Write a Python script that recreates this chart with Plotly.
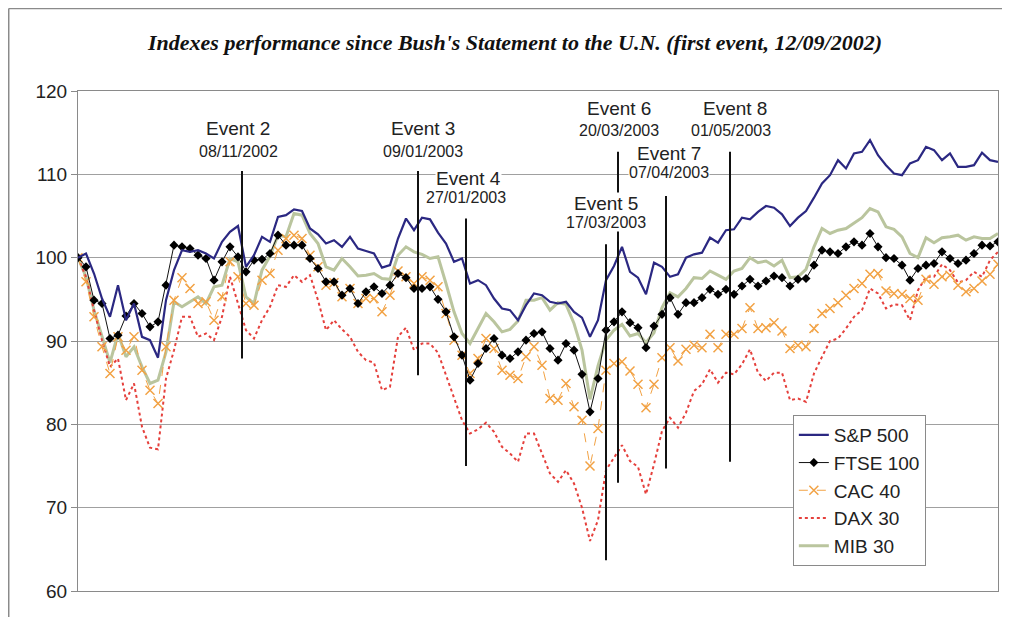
import pandas as pd
import plotly.graph_objects as go

# ---------------- data ----------------
start_date = "2002-09-12"
n_points = 116
market_holidays = ["2003-04-18", "2003-04-21"]

sp500 = [100, 100.5, 98.1, 95.1, 92.9, 96.7, 92.5, 94.5, 90.5, 90.1, 88.0, 94.9, 98.5, 100.9, 100.7, 100.9, 100.5, 99.9, 101.9, 103.1, 103.8, 98.9, 100.3, 102.5,
         101.9, 104.9, 105.1, 105.8, 105.6, 103.5, 102.8, 101.7, 102.1, 101.3, 102.5, 101.1, 100.8, 100.5, 98.8, 99.1, 102.3, 104.7, 103.3, 104.8, 104.6, 103.0,
         101.7, 99.5, 99.9, 96.9, 97.3, 96.7, 95.1, 93.9, 93.7, 92.5, 94.3, 95.7, 95.5, 94.7, 94.5, 94.7, 93.5, 92.8, 90.5, 92.5, 97.3, 99.0, 101.3,
         98.3, 97.6, 95.6, 99.4, 98.9, 97.7, 98.0, 100.0, 100.4, 100.6, 102.4, 101.8, 103.3, 103.4, 104.8, 104.6, 105.5, 106.2, 106.0, 105.2, 103.8, 104.8,
         105.6, 107.2, 108.9, 109.9, 111.7, 110.7, 112.5, 112.7, 114.1, 112.3, 111.1, 110.1, 109.9, 111.3, 111.7, 113.3, 112.9, 111.7, 112.5, 110.9, 110.9, 111.1, 112.6, 111.7, 111.5]

ftse100 = [100, 98.9, 94.9, 94.5, 90.3, 90.7, 93.0, 94.5, 93.3, 91.7, 92.3, 96.7, 101.5, 101.3, 101.1, 100.3, 99.9, 97.3, 99.5, 101.3, 100.1, 98.3, 99.7, 99.8,
           100.5, 102.7, 101.5, 101.5, 101.5, 99.9, 98.7, 97.1, 97.1, 95.5, 96.3, 94.5, 95.9, 96.5, 95.7, 96.7, 98.1, 97.6, 96.3, 96.3, 96.5, 95.0,
           93.5, 90.5, 88.3, 85.3, 87.3, 89.1, 90.3, 88.3, 87.9, 88.7, 90.1, 90.9, 91.1, 89.1, 87.7, 89.7, 88.9, 86.0, 81.5, 85.5, 91.3, 92.3, 93.5,
           92.2, 91.6, 89.2, 91.8, 93.2, 95.2, 93.2, 94.6, 94.6, 95.2, 96.2, 95.6, 96.2, 95.6, 96.6, 97.4, 96.6, 97.2, 97.8, 97.6, 96.6, 97.4,
           97.5, 99.1, 100.9, 100.7, 100.5, 101.3, 101.9, 101.5, 102.9, 101.3, 100.0, 99.9, 99.1, 97.3, 98.7, 99.1, 99.3, 100.7, 99.9, 99.3, 99.7, 100.5, 101.5, 101.4, 101.9]

cac40 = [100, 97.1, 92.9, 89.3, 86.1, 90.5, 88.9, 90.5, 86.5, 84.1, 82.5, 89.3, 94.9, 97.6, 96.3, 94.5, 94.7, 92.5, 95.3, 99.5, 97.7, 94.5, 94.3, 97.3,
         98.1, 100.9, 102.3, 102.7, 102.3, 100.3, 98.9, 96.7, 97.0, 95.3, 96.3, 94.5, 95.1, 95.1, 93.5, 95.5, 98.4, 97.7, 96.9, 97.7, 97.3, 96.5,
         93.3, 90.1, 88.3, 86.1, 87.9, 90.3, 89.1, 86.5, 85.9, 85.5, 88.1, 89.3, 87.1, 83.1, 82.9, 84.9, 82.1, 80.5, 75.0, 79.5, 86.5, 87.3, 87.5,
         86.4, 84.8, 82.0, 84.8, 88.0, 89.2, 87.6, 89.0, 89.5, 89.2, 90.8, 89.2, 90.8, 90.8, 91.5, 94.0, 91.5, 91.6, 92.2, 91.2, 89.1, 89.5,
         89.3, 91.5, 93.3, 93.9, 94.6, 95.5, 96.3, 96.9, 98.0, 98.1, 96.0, 95.7, 95.6, 95.1, 94.9, 97.4, 96.8, 97.7, 97.9, 96.7, 95.9, 96.3, 97.2, 98.0, 99.2]

dax30 = [100, 97.7, 93.7, 90.1, 86.9, 87.9, 82.9, 84.9, 79.7, 77.2, 77.0, 85.5, 88.9, 92.9, 92.9, 90.5, 90.9, 90.1, 92.9, 97.7, 94.5, 91.3, 90.3, 92.5,
         94.1, 96.7, 96.5, 97.9, 97.1, 97.9, 94.9, 91.3, 92.5, 91.4, 90.5, 88.7, 87.7, 87.4, 84.1, 84.5, 90.5, 91.6, 88.9, 89.7, 89.7, 88.6,
         85.9, 83.3, 80.5, 78.9, 79.4, 80.2, 79.1, 77.3, 76.5, 75.5, 78.9, 78.9, 76.5, 74.1, 73.1, 74.5, 72.9, 70.0, 66.0, 68.5, 74.5, 76.0, 77.5,
         75.6, 74.9, 71.6, 75.2, 79.2, 80.8, 79.6, 81.4, 84.0, 84.8, 86.6, 85.0, 86.2, 86.0, 87.2, 89.0, 86.2, 85.2, 86.2, 86.2, 82.9, 83.1,
         82.7, 86.1, 88.1, 90.0, 90.3, 91.5, 92.9, 93.7, 96.3, 95.7, 93.9, 94.4, 94.3, 92.5, 96.1, 97.7, 97.7, 99.2, 98.5, 97.0, 97.3, 98.3, 97.7, 99.7, 100.7]

mib30 = [100, 97.7, 93.7, 90.5, 87.4, 90.9, 88.1, 89.3, 86.9, 84.9, 85.3, 88.7, 94.7, 94.1, 94.7, 95.3, 94.5, 96.5, 96.7, 99.9, 99.5, 95.3, 94.5, 98.5,
         100.2, 102.7, 102.5, 105.3, 105.1, 102.9, 101.7, 98.9, 98.5, 99.9, 98.9, 97.8, 97.9, 98.1, 97.5, 97.4, 100.3, 101.3, 100.7, 100.4, 99.9, 100.1,
         96.9, 93.5, 90.9, 89.7, 91.5, 93.3, 92.3, 91.1, 91.4, 92.4, 94.9, 94.9, 95.2, 93.7, 94.6, 94.4, 92.1, 88.9, 83.0, 87.0, 90.1, 91.3, 92.0,
         90.6, 90.9, 89.8, 91.0, 94.0, 95.8, 95.3, 96.3, 97.6, 97.5, 98.4, 97.9, 97.4, 98.4, 98.7, 100.0, 99.4, 99.6, 99.0, 99.7, 97.6, 97.7,
         98.6, 101.3, 103.5, 102.9, 103.3, 103.5, 104.1, 104.8, 105.9, 105.5, 103.7, 103.4, 102.5, 100.5, 100.0, 102.4, 101.8, 102.4, 102.5, 102.7, 102.1, 102.5, 102.3, 102.3, 102.9]

event_names = ["Event 2", "Event 3", "Event 4", "Event 5", "Event 6", "Event 7", "Event 8"]
event_dates = ["2002-11-08", "2003-01-09", "2003-01-27", "2003-03-17", "2003-03-20", "2003-04-07", "2003-05-01"]
event_labels = ["08/11/2002", "09/01/2003", "27/01/2003", "17/03/2003", "20/03/2003", "07/04/2003", "01/05/2003"]

title_text = "Indexes performance since Bush's Statement to the U.N. (first event, 12/09/2002)"
y_ticks = [60, 70, 80, 90, 100, 110, 120]

# ---------------- layout helpers (styling / placement) ----------------
line_span = [(87.9, 110.4), (85.9, 110.4), (75.0, 104.7), (63.7, 101.6), (73.0, 112.7), (74.7, 107.4), (75.5, 112.7)]
label_y = [(115.56, 112.8), (115.56, 112.8), (109.56, 107.28), (106.56, 104.28), (117.96, 115.32), (112.56, 110.28), (117.96, 115.32)]
label_dx = [(-4, -4), (5, 5), (2, 0), (0, 0), (1, 1), (3, 3), (5, 1)]

cbd = pd.offsets.CustomBusinessDay(n=2, holidays=market_holidays)
dates = pd.date_range(start_date, periods=n_points, freq=cbd)

fig = go.Figure()

fig.add_trace(go.Scatter(x=dates, y=mib30, name="MIB 30", mode="lines",
                         line=dict(color="#BAC59E", width=3), legendrank=5))
fig.add_trace(go.Scatter(x=dates, y=dax30, name="DAX 30", mode="lines",
                         line=dict(color="#E5403C", width=2, dash="dot"), legendrank=4))
fig.add_trace(go.Scatter(x=dates, y=cac40, name="CAC 40", mode="lines+markers",
                         line=dict(color="#F2A244", width=1, dash="dash"),
                         marker=dict(symbol="x-thin", size=9, line=dict(color="#F2A244", width=1.5)),
                         legendrank=3))
fig.add_trace(go.Scatter(x=dates, y=ftse100, name="FTSE 100", mode="lines+markers",
                         line=dict(color="#111111", width=1),
                         marker=dict(symbol="diamond", size=7, color="#000000"),
                         legendrank=2))
fig.add_trace(go.Scatter(x=dates, y=sp500, name="S&P 500", mode="lines",
                         line=dict(color="#2B2882", width=2.2), legendrank=1))

shapes = []
annotations = []
for i, d in enumerate(event_dates):
    y0, y1 = line_span[i]
    shapes.append(dict(type="line", xref="x", yref="y", x0=d, x1=d, y0=y0, y1=y1,
                       line=dict(color="#111111", width=2)))
    ya, yb = label_y[i]
    dxa, dxb = label_dx[i]
    annotations.append(dict(x=d, y=ya, xref="x", yref="y", text=event_names[i], showarrow=False,
                            xshift=dxa, font=dict(family="Liberation Sans, Arial", size=19, color="#222222"),
                            bgcolor="white", borderpad=0))
    annotations.append(dict(x=d, y=yb, xref="x", yref="y", text=event_labels[i], showarrow=False,
                            xshift=dxb, font=dict(family="Liberation Sans, Arial", size=16, color="#222222"),
                            bgcolor="white", borderpad=0))

# chart-area frame (top and left edges visible in the reference)
shapes.append(dict(type="line", xref="paper", yref="paper", x0=-0.0753, x1=1.02, y0=1.165, y1=1.165,
                   line=dict(color="#8a8a8a", width=1.5)))
shapes.append(dict(type="line", xref="paper", yref="paper", x0=-0.0753, x1=-0.0753, y0=-0.06, y1=1.165,
                   line=dict(color="#8a8a8a", width=1.5)))

fig.update_layout(
    width=1002, height=609,
    margin=dict(l=70, r=12, t=83, b=26),
    paper_bgcolor="white", plot_bgcolor="white",
    title=dict(text="<b><i>" + title_text + "</i></b>", x=0.506, xanchor="center",
               y=1 - 34 / 609, yanchor="middle",
               font=dict(family="Liberation Serif, Times New Roman", size=22, color="#111111")),
    showlegend=True,
    legend=dict(x=0.777, y=0.352, xanchor="left", yanchor="top",
                bgcolor="white", bordercolor="#8a8a8a", borderwidth=1,
                font=dict(family="Liberation Sans, Arial", size=19, color="#222222"),
                traceorder="normal"),
    shapes=shapes,
    annotations=annotations,
)

fig.update_xaxes(type="date", range=[dates[0], dates[-1]], showticklabels=False, showgrid=False,
                 showline=True, mirror=True, linecolor="#8a8a8a", linewidth=1, ticks="",
                 zeroline=False,
                 rangebreaks=[dict(bounds=["sat", "mon"]), dict(values=market_holidays)])
fig.update_yaxes(range=[60, 120], tickvals=y_ticks, showgrid=True, gridcolor="#a0a0a0", gridwidth=1,
                 showline=True, mirror=True, linecolor="#8a8a8a", linewidth=1,
                 ticks="outside", ticklen=6, tickcolor="#8a8a8a",
                 tickfont=dict(family="Liberation Sans, Arial", size=19, color="#222222"),
                 zeroline=False)

fig.write_html("out.html")
